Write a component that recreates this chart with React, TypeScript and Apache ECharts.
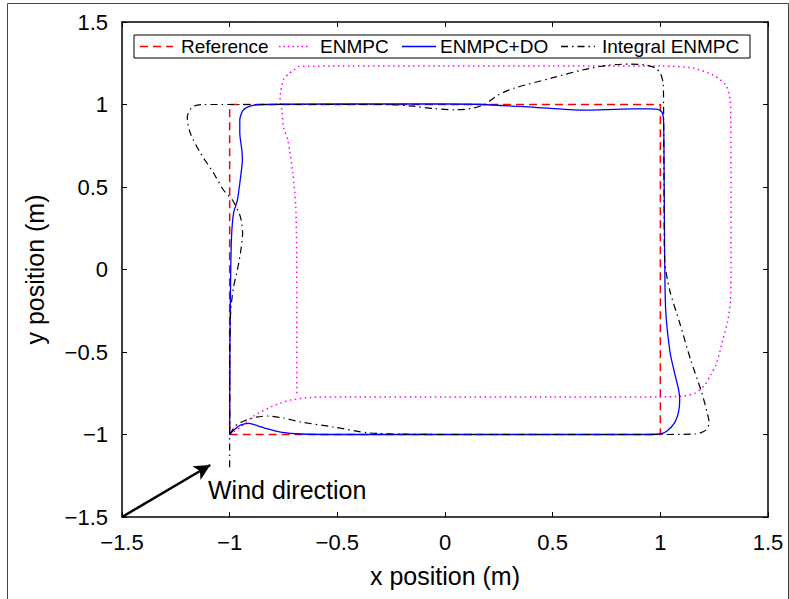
import React, { useEffect, useRef } from "react";
import * as echarts from "echarts";

const seriesNames = ["Reference", "ENMPC", "ENMPC+DO", "Integral ENMPC"];
const seriesColors = ["#ff0000", "#ff00ff", "#0000ff", "#000000"];

const referencePath = [
  [-1, -1], [1, -1], [1, 1], [-1, 1], [-1, -1],
];

const enmpcPath = [
  [-1.0, -1.0], [-0.95, -0.955], [-0.889, -0.888], [-0.82, -0.84], [-0.763, -0.809],
  [-0.716, -0.791], [-0.62, -0.775], [-0.4, -0.772], [0, -0.772], [0.5, -0.772],
  [1.0, -0.772], [1.104, -0.767], [1.164, -0.748], [1.206, -0.7], [1.234, -0.639],
  [1.258, -0.579], [1.276, -0.5], [1.29, -0.427], [1.314, -0.306], [1.326, -0.185],
  [1.328, 0], [1.328, 0.5], [1.327, 0.9], [1.325, 1.027], [1.304, 1.118],
  [1.244, 1.179], [1.15, 1.221], [1.01, 1.233], [0.5, 1.234], [0, 1.234],
  [-0.5, 1.233], [-0.68, 1.23], [-0.702, 1.209], [-0.726, 1.185], [-0.749, 1.155],
  [-0.757, 1.118], [-0.763, 1.076], [-0.766, 1.045], [-0.763, 1.009], [-0.758, 0.967],
  [-0.749, 0.858], [-0.73, 0.785], [-0.707, 0.585], [-0.693, 0.379], [-0.689, 0.1],
  [-0.688, -0.3], [-0.688, -0.773],
];

const enmpcDoPath = [
  [-1, -1], [-0.98, -0.972], [-0.95, -0.943], [-0.911, -0.933], [-0.87, -0.947],
  [-0.833, -0.963], [-0.763, -0.985], [-0.67, -0.997], [-0.5, -1.0], [0, -1.0],
  [0.5, -1.0], [0.9, -1.0], [0.996, -0.997], [1.028, -0.982], [1.066, -0.93],
  [1.085, -0.86], [1.09, -0.79], [1.085, -0.73], [1.066, -0.627], [1.045, -0.5],
  [1.025, -0.25], [1.02, 0.1], [1.018, 0.5], [1.015, 0.9], [1.008, 0.952],
  [0.987, 0.971], [0.95, 0.973], [0.87, 0.973], [0.637, 0.966], [0.404, 0.984],
  [0.17, 1.0], [0, 1.003], [-0.5, 1.003], [-0.85, 1.0], [-0.905, 0.99],
  [-0.938, 0.965], [-0.953, 0.906], [-0.953, 0.827], [-0.943, 0.72], [-0.941, 0.66],
  [-0.947, 0.585], [-0.964, 0.421], [-0.982, 0.342], [-0.992, 0.179], [-0.996, -0.106],
  [-0.999, -0.5], [-1.0, -1.0],
];

const integralPath = [
  [-1, -1], [-0.975, -0.95], [-0.95, -0.927], [-0.89, -0.898], [-0.824, -0.888],
  [-0.75, -0.9], [-0.67, -0.924], [-0.516, -0.955], [-0.357, -0.99], [-0.2, -0.998],
  [0, -1.0], [0.5, -1.0], [1.0, -1.0], [1.164, -0.997], [1.21, -0.975],
  [1.227, -0.93], [1.216, -0.86], [1.192, -0.745], [1.141, -0.548], [1.09, -0.324],
  [1.043, -0.124], [1.02, 0.058], [1.017, 0.5], [1.015, 1.0], [1.013, 1.13],
  [1.0, 1.19], [0.977, 1.221], [0.93, 1.24], [0.856, 1.245], [0.763, 1.239],
  [0.637, 1.209], [0.497, 1.161], [0.324, 1.1], [0.25, 1.06], [0.184, 1.0],
  [0.12, 0.975], [0.044, 0.968], [-0.05, 0.975], [-0.15, 0.99], [-0.264, 1.0],
  [-0.5, 1.0], [-1.0, 1.0], [-1.122, 1.0], [-1.174, 0.985], [-1.197, 0.924],
  [-1.183, 0.827], [-1.136, 0.706], [-1.075, 0.585], [-1.029, 0.482], [-0.987, 0.421],
  [-0.95, 0.318], [-0.94, 0.221], [-0.95, 0.1], [-0.964, -0.003], [-0.982, -0.106],
  [-0.995, -0.25], [-1.0, -0.5], [-1.0, -1.0], [-1.0, -1.22],
];

const windArrowStart = [-1.5, -1.5];
const windArrowEnd = [-1.09, -1.185];
const windLabel = "Wind direction";
const xAxisName = "x position (m)";
const yAxisName = "y position (m)";

const FONT = "'Liberation Sans', Arial, sans-serif";
const fmt = (v: number) => String(v).replace("-", "\u2212");

export default function App() {
  const ref = useRef<HTMLDivElement>(null);
  useEffect(() => {
    if (!ref.current) return;
    const chart = echarts.init(ref.current, null, { renderer: "svg" });
    const tickLabel = { fontSize: 22, color: "#000", fontFamily: FONT };
    const baseAxis = {
      type: "value" as const,
      min: -1.5,
      max: 1.5,
      interval: 0.5,
      splitLine: { show: false },
      axisLine: { show: true, onZero: false, lineStyle: { color: "#000", width: 1.5 } },
      axisTick: { show: true, inside: true, length: 5, lineStyle: { color: "#000", width: 1 } },
    };
    const legendY = 46.5;
    const legendItems = [
      { x1: 140, x2: 173, tx: 181, dash: [8, 5], w: 1.6 },
      { x1: 279, x2: 310, tx: 320, dash: [1.5, 3], w: 1.6 },
      { x1: 402, x2: 436, tx: 440, dash: null, w: 1.6 },
      { x1: 561, x2: 595, tx: 602, dash: [7, 4, 1.5, 4], w: 1.3 },
    ];
    const graphics: any[] = [
      {
        type: "rect",
        left: 5,
        top: 1,
        shape: { width: 781, height: 596 },
        style: { fill: "none", stroke: "#444", lineWidth: 1 },
        silent: true,
      },
      {
        type: "rect",
        shape: { x: 134, y: 35, width: 616, height: 23 },
        style: { fill: "#fff", stroke: "#000", lineWidth: 1 },
        z: 10,
      },
      {
        type: "text",
        left: 208,
        top: 477,
        style: { text: windLabel, fontSize: 25, fill: "#000", fontFamily: FONT },
        z: 10,
      },
    ];
    legendItems.forEach((it, i) => {
      graphics.push({
        type: "line",
        shape: { x1: it.x1, y1: legendY, x2: it.x2, y2: legendY },
        style: { stroke: seriesColors[i], lineWidth: it.w, lineDash: it.dash || undefined },
        z: 11,
      });
      graphics.push({
        type: "text",
        x: it.tx,
        y: legendY,
        style: {
          text: seriesNames[i],
          fontSize: 19,
          fill: "#000",
          fontFamily: FONT,
          verticalAlign: "middle",
          align: "left",
        },
        z: 11,
      });
    });

    const paths = [referencePath, enmpcPath, enmpcDoPath, integralPath];
    const styles: any[] = [
      { type: [8, 5], width: 1.5 },
      { type: [1.5, 3.5], width: 1.5 },
      { type: "solid", width: 1.3 },
      { type: [7, 4, 1.5, 4], width: 1.2 },
    ];
    const series: any[] = paths.map((p, i) => ({
      name: seriesNames[i],
      type: "line",
      data: p,
      symbol: "none",
      smooth: i === 0 ? false : 0.25,
      lineStyle: { color: seriesColors[i], ...styles[i] },
      itemStyle: { color: seriesColors[i] },
      z: 2 + i,
    }));
    series[0].markLine = {
      silent: true,
      symbol: ["none", "arrow"],
      symbolSize: [12, 16],
      label: { show: false },
      lineStyle: { color: "#000", width: 2.5, type: "solid" },
      data: [[{ coord: windArrowStart }, { coord: windArrowEnd }]],
    };

    chart.setOption({
      animation: false,
      backgroundColor: "#fff",
      grid: { left: 122, right: 21, top: 22, bottom: 82, containLabel: false },
      xAxis: [
        {
          ...baseAxis,
          position: "bottom",
          axisLabel: { ...tickLabel, formatter: fmt, margin: 14 },
          name: xAxisName,
          nameLocation: "middle",
          nameGap: 46,
          nameTextStyle: { fontSize: 25, color: "#000", fontFamily: FONT },
        },
        { ...baseAxis, position: "top", axisLabel: { show: false } },
      ],
      yAxis: [
        {
          ...baseAxis,
          position: "left",
          axisLabel: { ...tickLabel, formatter: fmt, margin: 14 },
          name: yAxisName,
          nameLocation: "middle",
          nameGap: 75,
          nameTextStyle: { fontSize: 25, color: "#000", fontFamily: FONT },
        },
        { ...baseAxis, position: "right", axisLabel: { show: false } },
      ],
      series,
      graphic: graphics,
    });
    return () => chart.dispose();
  }, []);
  return (
    <div
      ref={ref}
      style={{ position: "fixed", left: 0, top: 0, width: 789, height: 599 }}
    />
  );
}
